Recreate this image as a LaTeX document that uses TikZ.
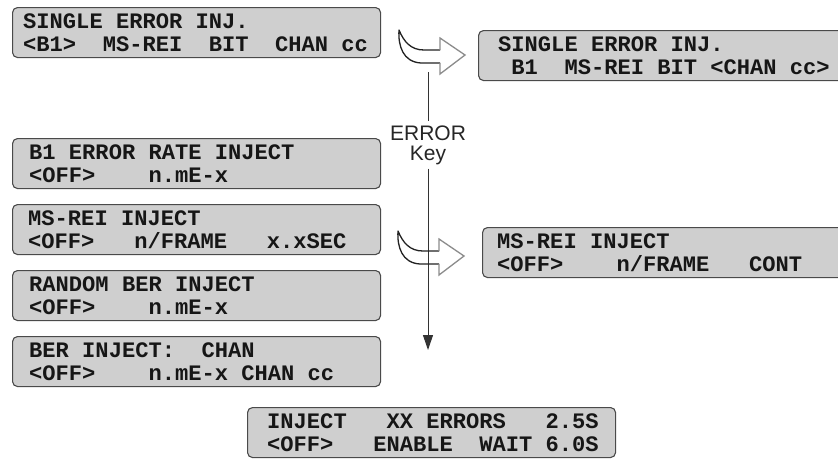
\documentclass[tikz,border=0pt]{standalone}
\usepackage{fontspec}
\usetikzlibrary{arrows.meta}
\newfontfamily\lcdfont{Liberation Mono}
\newfontfamily\keyfont{Liberation Sans}
\definecolor{lcdfill}{HTML}{CFCFCF}
\definecolor{lcdedge}{HTML}{4A4A4A}
\definecolor{lcdink}{HTML}{161616}
\definecolor{headgray}{HTML}{8C8C8C}
\definecolor{curveink}{HTML}{222222}
\tikzset{
  lcdbox/.style={draw=lcdedge, fill=lcdfill, line width=1.1pt, rounded corners=5pt,
    inner sep=0pt, minimum height=50pt, anchor=north west},
  lcdtext/.style={text=lcdink, inner sep=0pt, anchor=base west,
    font=\lcdfont\bfseries\fontsize{22.1}{23}\selectfont},
  keytext/.style={text=black!85, inner sep=4pt, anchor=base,
    font=\keyfont\fontsize{21}{21}\selectfont},
  vline/.style={draw=black!80, line width=1pt},
  arrcurve/.style={draw=curveink, line width=1.3pt, line join=round},
  arrhead/.style={draw=headgray, line width=1.3pt, line join=miter},
  pics/hollowarr/.style={code={
    \draw[arrcurve] (41,20) -- (25,20) .. controls (12,20) and (5,12) .. (0,0)
      .. controls (-1,16) and (4,32) .. (22,33) -- (41,33);
    \draw[arrhead] (41,20) -- (41,8) -- (66,25) -- (41,44) -- (41,33);
  }}
}
\newcommand\lcdpanel[7]{%
  \node[lcdbox, minimum width={#4-#2}] (#1) at (#2,#3) {};
  \node[lcdtext] (#1-a) at (#5,#3+21.5) {#6};
  \node[lcdtext] (#1-b) at (#5,#3+44.5) {#7};
}
\begin{document}
\begin{tikzpicture}[x=1pt,y=-1pt]
\clip (0,0) rectangle (838,458);
\fill[white] (0,0) rectangle (838,458);

\lcdpanel{b1}{12}{7}{380}{23}{SINGLE~ERROR~INJ.}{<B1>~~MS-REI~~BIT~~CHAN~cc}
\lcdpanel{b2}{478}{30}{846}{498}{SINGLE~ERROR~INJ.}{~B1~~MS-REI~BIT~<CHAN~cc>}
\lcdpanel{b3}{12}{138}{380}{29}{B1~ERROR~RATE~INJECT}{<OFF>~~~~n.mE-x}
\lcdpanel{b4}{12}{204}{380}{28}{MS-REI~INJECT}{<OFF>~~~n/FRAME~~~x.xSEC}
\lcdpanel{b5}{482}{227}{846}{497}{MS-REI~INJECT}{<OFF>~~~~n/FRAME~~~CONT}
\lcdpanel{b6}{12}{270}{380}{29}{RANDOM~BER~INJECT}{<OFF>~~~~n.mE-x}
\lcdpanel{b7}{12}{336}{380}{29}{BER~INJECT:~~CHAN}{<OFF>~~~~n.mE-x~CHAN~cc}
\lcdpanel{b8}{247}{407}{615}{267}{INJECT~~~XX~ERRORS~~~2.5S}{<OFF>~~~ENABLE~~WAIT~6.0S}

\node[keytext] (errlbl) at (428,140) {ERROR};
\node[keytext] (keylbl) at (428,160) {Key};
\coordinate (ltop) at (428,72);
\coordinate (lbot) at (428,350);
\draw[vline] (ltop) -- (errlbl.north);
\draw[vline, -{Triangle[width=10pt,length=15pt]}] (keylbl.south) -- (lbot);

\pic at (399,30) {hollowarr};
\pic at (398,231) {hollowarr};
\end{tikzpicture}
\end{document}
